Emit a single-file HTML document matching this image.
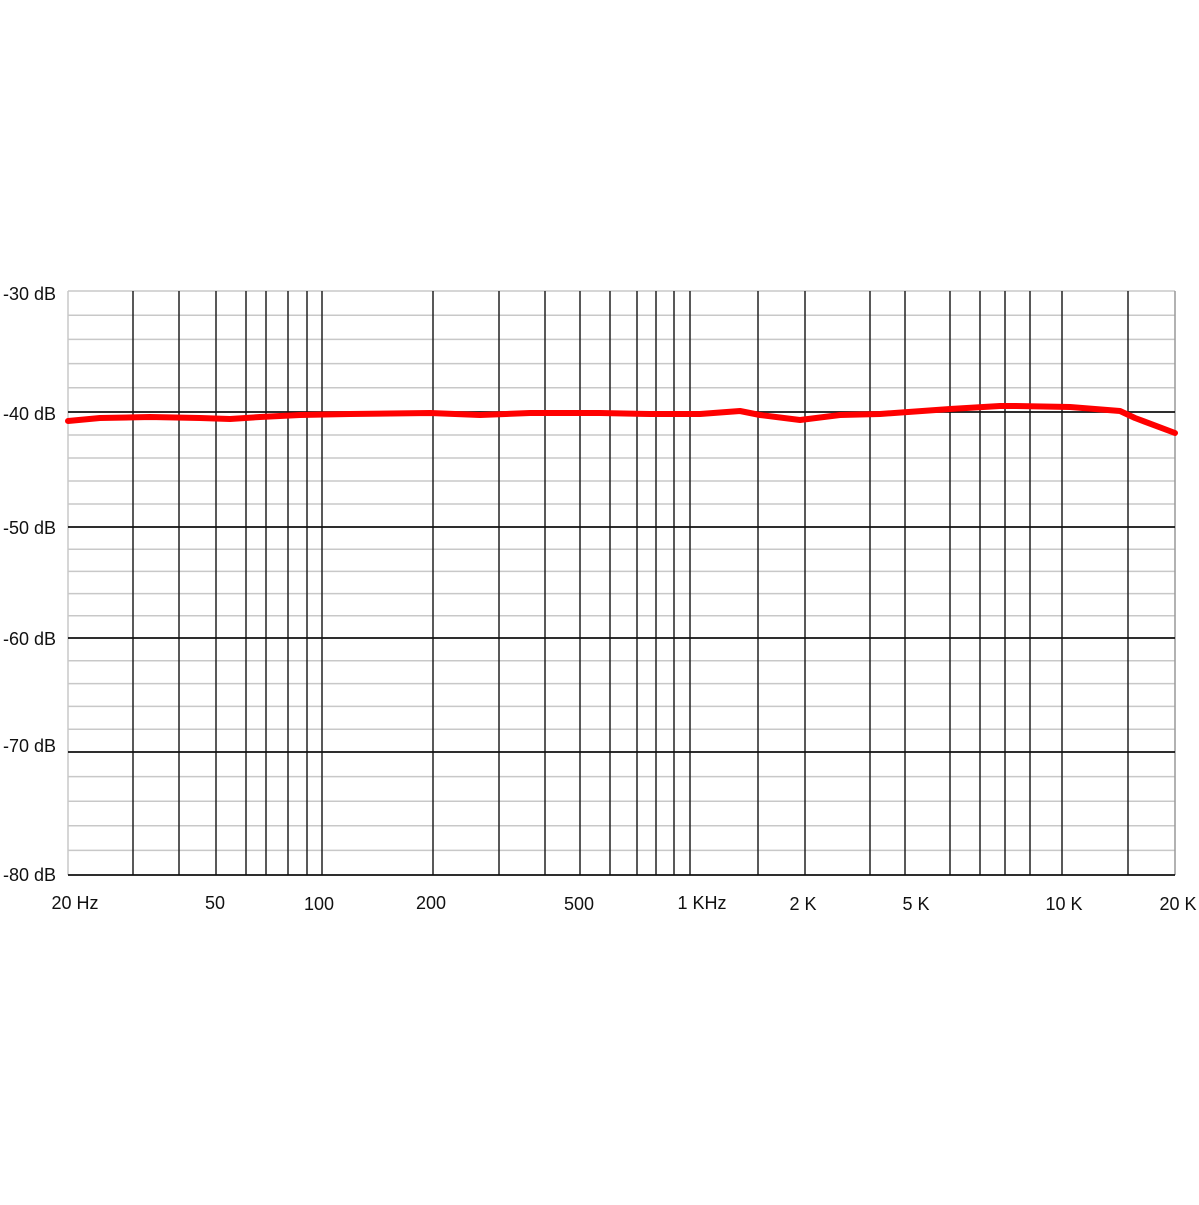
<!DOCTYPE html>
<html><head><meta charset="utf-8"><style>body{margin:0;background:#fff}</style></head><body>
<svg width="1199" height="1200" xmlns="http://www.w3.org/2000/svg" font-family="Liberation Sans, Arial, sans-serif" font-size="18">
<rect width="1199" height="1200" fill="#fff"/>
<path stroke="#c8c8c8" stroke-width="1.5" fill="none" d="M68 291H1175 M68 315.2H1175 M68 339.4H1175 M68 363.6H1175 M68 387.8H1175 M68 435H1175 M68 458H1175 M68 481H1175 M68 504H1175 M68 549.2H1175 M68 571.4H1175 M68 593.6H1175 M68 615.8H1175 M68 660.8H1175 M68 683.6H1175 M68 706.4H1175 M68 729.2H1175 M68 776.6H1175 M68 801.2H1175 M68 825.8H1175 M68 850.4H1175 M68 291V875"/>
<path stroke="#999" stroke-width="1.5" d="M1175 291V875"/>
<path stroke="#222" stroke-width="1.5" fill="none" d="M133 291V875 M179 291V875 M216 291V875 M246 291V875 M266 291V875 M288 291V875 M307 291V875 M322 291V875 M433 291V875 M499 291V875 M545 291V875 M580 291V875 M610 291V875 M637 291V875 M656 291V875 M674 291V875 M690 291V875 M758 291V875 M805 291V875 M870 291V875 M905 291V875 M950 291V875 M980 291V875 M1005 291V875 M1030 291V875 M1062 291V875 M1128 291V875"/>
<path stroke="#111" stroke-width="1.8" fill="none" d="M68 412H1175 M68 527H1175 M68 638H1175 M68 752H1175 M68 875H1175"/>
<polyline fill="none" stroke="#f00" stroke-width="6" stroke-linecap="round" stroke-linejoin="round" points="68,421 100,418 150,417 200,418 230,419 260,417 300,415 350,414 430,413 480,415 530,413 600,413 650,414 700,414 740,411 760,415 800,420 840,415 880,414 950,409 1000,406 1015,406 1070,407 1120,411 1135,418 1175,433"/>
<g text-anchor="end" fill="#111">
<text x="56" y="300">-30 dB</text>
<text x="56" y="420">-40 dB</text>
<text x="56" y="534">-50 dB</text>
<text x="56" y="645">-60 dB</text>
<text x="56" y="752">-70 dB</text>
<text x="56" y="881">-80 dB</text>
</g>
<g text-anchor="middle" fill="#111">
<text x="75" y="909">20 Hz</text>
<text x="215" y="909">50</text>
<text x="319" y="910">100</text>
<text x="431" y="909">200</text>
<text x="579" y="910">500</text>
<text x="702" y="909">1 KHz</text>
<text x="803" y="910">2 K</text>
<text x="916" y="910">5 K</text>
<text x="1064" y="910">10 K</text>
<text x="1178" y="910">20 K</text>
</g>
</svg>
</body></html>
